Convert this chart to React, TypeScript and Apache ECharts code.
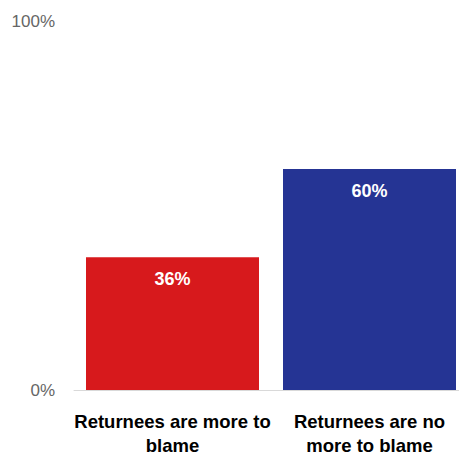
import React, { useEffect, useRef } from "react";
import * as echarts from "echarts";

const categories = ["Returnees are more to\nblame", "Returnees are no\nmore to blame"];
const values = [36, 60];
const colors = ["#d7191c", "#253494"];

export default function App() {
  const ref = useRef<HTMLDivElement>(null);
  useEffect(() => {
    const chart = echarts.init(ref.current!, null, { renderer: "svg" });
    chart.setOption({
      animation: false,
      grid: { left: 74, right: 0, top: 21.5, bottom: 63, containLabel: false },
      xAxis: {
        type: "category",
        data: categories,
        axisLine: { lineStyle: { color: "#d9d9d9", width: 1 } },
        axisTick: { show: false },
        axisLabel: {
          color: "#000",
          fontFamily: "'Liberation Sans Narrow', 'Arial Narrow', 'Liberation Sans', Arial, sans-serif",
          fontWeight: "bold",
          fontSize: 18.5,
          lineHeight: 24,
          margin: 19,
          interval: 0,
        },
      },
      yAxis: {
        type: "value",
        min: 0,
        max: 100,
        interval: 100,
        axisLine: { show: false },
        axisTick: { show: false },
        splitLine: { show: false },
        axisLabel: {
          formatter: "{value}%",
          color: "#666666",
          fontFamily: "'Liberation Sans', Arial, sans-serif",
          fontSize: 17,
          margin: 19,
        },
      },
      series: [
        {
          type: "bar",
          barWidth: 173,
          data: values.map((v, i) => ({ value: v, itemStyle: { color: colors[i] } })),
          label: {
            show: true,
            position: "insideTop",
            distance: 13,
            formatter: "{c}%",
            color: "#fff",
            fontWeight: "bold",
            fontSize: 18,
            fontFamily: "'Liberation Sans Narrow', 'Arial Narrow', 'Liberation Sans', Arial, sans-serif",
          },
        },
      ],
    });
    return () => chart.dispose();
  }, []);
  return (
    <div style={{ position: "absolute", left: 0, top: 0, width: 459, height: 457, overflow: "hidden" }}>
      <div ref={ref} style={{ width: 468, height: 457 }} />
    </div>
  );
}
